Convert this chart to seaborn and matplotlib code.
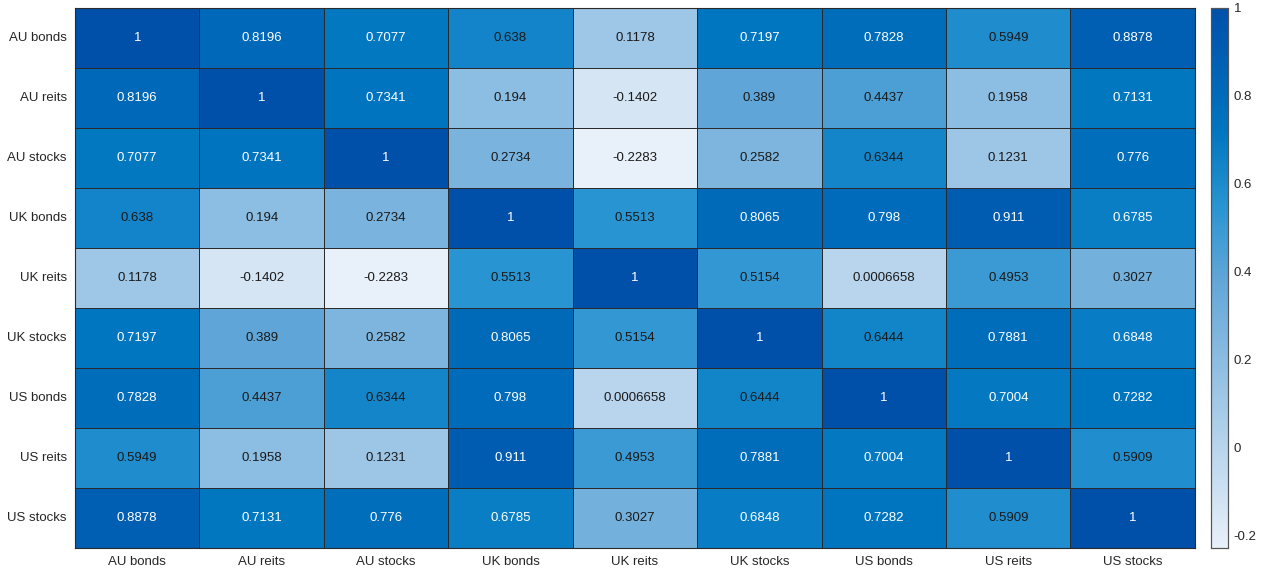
import numpy as np
import pandas as pd
import matplotlib
matplotlib.use('Agg')
import matplotlib.pyplot as plt
import seaborn as sns
from matplotlib.colors import LinearSegmentedColormap

# Asset labels (rows and columns are the same)
assets = ['AU bonds', 'AU reits', 'AU stocks', 'UK bonds', 'UK reits',
          'UK stocks', 'US bonds', 'US reits', 'US stocks']

# Correlation values, one row per asset
au_bonds = [1, 0.8196, 0.7077, 0.638, 0.1178, 0.7197, 0.7828, 0.5949, 0.8878]
au_reits = [0.8196, 1, 0.7341, 0.194, -0.1402, 0.389, 0.4437, 0.1958, 0.7131]
au_stocks = [0.7077, 0.7341, 1, 0.2734, -0.2283, 0.2582, 0.6344, 0.1231, 0.776]
uk_bonds = [0.638, 0.194, 0.2734, 1, 0.5513, 0.8065, 0.798, 0.911, 0.6785]
uk_reits = [0.1178, -0.1402, -0.2283, 0.5513, 1, 0.5154, 0.0006658, 0.4953, 0.3027]
uk_stocks = [0.7197, 0.389, 0.2582, 0.8065, 0.5154, 1, 0.6444, 0.7881, 0.6848]
us_bonds = [0.7828, 0.4437, 0.6344, 0.798, 0.0006658, 0.6444, 1, 0.7004, 0.7282]
us_reits = [0.5949, 0.1958, 0.1231, 0.911, 0.4953, 0.7881, 0.7004, 1, 0.5909]
us_stocks = [0.8878, 0.7131, 0.776, 0.6785, 0.3027, 0.6848, 0.7282, 0.5909, 1]

cbar_ticks = [-0.2, 0, 0.2, 0.4, 0.6, 0.8, 1]
cbar_labels = ['-0.2', '0', '0.2', '0.4', '0.6', '0.8', '1']

corr = pd.DataFrame([au_bonds, au_reits, au_stocks, uk_bonds, uk_reits,
                     uk_stocks, us_bonds, us_reits, us_stocks],
                    index=assets, columns=assets)

vmin, vmax = corr.values.min(), corr.values.max()

# MATLAB-like light-to-dark blue map
anchors = [(0.0, (232, 240, 249)), (0.282, (158, 198, 230)), (0.503, (95, 165, 215)),
           (0.635, (40, 148, 210)), (0.772, (0, 118, 192)), (1.0, (0, 80, 170))]
cmap = LinearSegmentedColormap.from_list(
    'blues_ml', [(t, tuple(c / 255 for c in rgb)) for t, rgb in anchors])

sns.set_style('white')
plt.rcParams['font.family'] = ['Liberation Sans', 'DejaVu Sans']

fig = plt.figure(figsize=(12.63, 5.74), dpi=100)
ax = fig.add_axes([0.0594, 0.0453, 0.8867, 0.9408])
cax = fig.add_axes([0.9588, 0.0453, 0.0135, 0.9408])

sns.heatmap(corr, ax=ax, cbar_ax=cax, cmap=cmap, vmin=vmin, vmax=vmax,
            annot=True, fmt='.4g', annot_kws={'fontsize': 9.5},
            linewidths=0.6, linecolor='#2a2a2a')

# text colour depends on cell darkness
flat = corr.values.flatten()
for txt, v in zip(ax.texts, flat):
    txt.set_color('white' if v >= 0.66 else '#1a1a1a')

ax.tick_params(axis='both', length=0, labelsize=9.5, colors='#262626', pad=6)
ax.set_yticklabels(assets, rotation=0)
ax.set_xticklabels(assets, rotation=0)
ax.set_xlabel('')
ax.set_ylabel('')
for s in ax.spines.values():
    s.set_visible(True)
    s.set_color('#2a2a2a')
    s.set_linewidth(0.8)

cax.set_yticks(cbar_ticks)
cax.set_yticklabels(cbar_labels)
cax.tick_params(direction='in', length=4, width=0.7, labelsize=9.5, colors='#262626', pad=4)
for s in cax.spines.values():
    s.set_visible(True)
    s.set_color('#555555')
    s.set_linewidth(0.8)

plt.savefig('out.png', dpi=100)
